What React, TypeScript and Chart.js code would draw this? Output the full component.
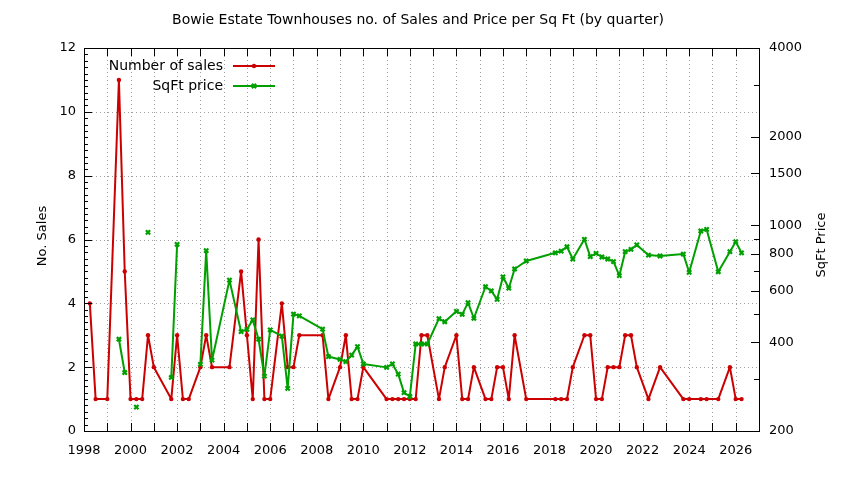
import React, { useEffect, useRef } from 'react';
import Chart from 'chart.js/auto';

// quarter start as decimal year
const quarters = [
  1998.25, 1998.5, 1999.0, 1999.5, 1999.75, 2000.0, 2000.25, 2000.5, 2000.75, 2001.0,
  2001.75, 2002.0, 2002.25, 2002.5, 2003.0, 2003.25, 2003.5, 2004.25, 2004.75, 2005.0,
  2005.25, 2005.5, 2005.75, 2006.0, 2006.5, 2006.75, 2007.0, 2007.25, 2008.25, 2008.5,
  2009.0, 2009.25, 2009.5, 2009.75, 2010.0, 2011.0, 2011.25, 2011.5, 2011.75, 2012.0,
  2012.25, 2012.5, 2012.75, 2013.25, 2013.5, 2014.0, 2014.25, 2014.5, 2014.75, 2015.25,
  2015.5, 2015.75, 2016.0, 2016.25, 2016.5, 2017.0, 2018.25, 2018.5, 2018.75, 2019.0,
  2019.5, 2019.75, 2020.0, 2020.25, 2020.5, 2020.75, 2021.0, 2021.25, 2021.5, 2021.75,
  2022.25, 2022.75, 2023.75, 2024.0, 2024.5, 2024.75, 2025.25, 2025.75, 2026.0, 2026.25,
];

const sales = [
  4, 1, 1, 11, 5, 1, 1, 1, 3, 2,
  1, 3, 1, 1, 2, 3, 2, 2, 5, 3,
  1, 6, 1, 1, 4, 2, 2, 3, 3, 1,
  2, 3, 1, 1, 2, 1, 1, 1, 1, 1,
  1, 3, 3, 1, 2, 3, 1, 1, 2, 1,
  1, 2, 2, 1, 3, 1, 1, 1, 1, 2,
  3, 3, 1, 1, 2, 2, 2, 3, 3, 2,
  1, 2, 1, 1, 1, 1, 1, 2, 1, 1,
];

const sqftPrice: (number | null)[] = [
  null, null, null, 410, 316, null, 241, null, 946, null,
  304, 861, null, null, 337, 820, 348, 651, 435, 443,
  477, 410, 307, 441, 420, 279, 499, 492, 444, 358,
  350, 344, 362, 387, 338, 329, 338, 312, 270, 262,
  395, 395, 395, 482, 470, 510, 498, 546, 483, 618,
  598, 560, 668, 611, 710, 756, 806, 817, 845, 768,
  896, 782, 803, 780, 768, 752, 674, 813, 828, 857,
  792, 786, 798, 692, 956, 968, 695, 813, 879, 806,
];

const yearTicks = [1998, 2000, 2002, 2004, 2006, 2008, 2010, 2012, 2014, 2016, 2018, 2020, 2022, 2024, 2026];
const salesTicks = [0, 2, 4, 6, 8, 10, 12];
const priceTicks = [200, 400, 600, 800, 1000, 1500, 2000, 4000];
const priceMinorTicks = [300, 500, 700, 900, 3000];

const X_MIN = 1998;
const X_MAX = 2027;
const FONT = '"DejaVu Sans", sans-serif';
const RED = '#cc0000';
const GREEN = '#00a000';

function line(ctx: CanvasRenderingContext2D, x1: number, y1: number, x2: number, y2: number) {
  ctx.beginPath();
  ctx.moveTo(x1, y1);
  ctx.lineTo(x2, y2);
  ctx.stroke();
}

const decor = {
  id: 'gnuplotDecor',
  beforeDatasetsDraw(chart: any) {
    const { ctx, chartArea: a, scales } = chart;
    ctx.save();
    ctx.strokeStyle = '#a0a0a0';
    ctx.lineWidth = 1;
    ctx.setLineDash([1, 3]);
    for (let yr = X_MIN + 1; yr < X_MAX; yr++) {
      const px = Math.round(scales.x.getPixelForValue(yr)) + 0.5;
      line(ctx, px, a.top, px, a.bottom);
    }
    salesTicks.forEach((v) => {
      if (v <= 0 || v >= 12) return;
      const py = Math.round(scales.y.getPixelForValue(v)) + 0.5;
      line(ctx, a.left, py, a.right, py);
    });
    ctx.restore();
  },
  afterDraw(chart: any) {
    const { ctx, chartArea: a, scales } = chart;
    ctx.save();
    ctx.strokeStyle = '#000';
    ctx.lineWidth = 1;
    ctx.setLineDash([]);

    // ticks, drawn inward
    for (let yr = X_MIN; yr <= X_MAX; yr++) {
      const px = Math.round(scales.x.getPixelForValue(yr)) + 0.5;
      line(ctx, px, a.bottom, px, a.bottom - 8);
      line(ctx, px, a.top, px, a.top + 8);
    }
    for (let k = 0; k <= 60; k++) {
      const py = Math.round(scales.y.getPixelForValue(k * 0.2)) + 0.5;
      line(ctx, a.left, py, a.left + (k % 10 === 0 ? 8 : 4), py);
    }
    priceTicks.forEach((v) => {
      const py = Math.round(scales.y2.getPixelForValue(v)) + 0.5;
      line(ctx, a.right, py, a.right - 8, py);
    });
    priceMinorTicks.forEach((v) => {
      const py = Math.round(scales.y2.getPixelForValue(v)) + 0.5;
      line(ctx, a.right, py, a.right - 5, py);
    });

    // border
    ctx.strokeRect(Math.round(a.left) + 0.5, Math.round(a.top) + 0.5, Math.round(a.right - a.left), Math.round(a.bottom - a.top));

    // title
    ctx.fillStyle = '#000';
    ctx.font = `14px ${FONT}`;
    ctx.textAlign = 'center';
    ctx.textBaseline = 'middle';
    ctx.fillText('Bowie Estate Townhouses no. of Sales and Price per Sq Ft (by quarter)', 418, 20);

    // legend
    ctx.textAlign = 'right';
    ctx.fillText('Number of sales', 223, 66);
    ctx.fillText('SqFt price', 223, 86);

    // axis titles
    ctx.font = `13px ${FONT}`;
    ctx.textAlign = 'center';
    ctx.save();
    ctx.translate(43, 236);
    ctx.rotate(-Math.PI / 2);
    ctx.fillText('No. Sales', 0, 0);
    ctx.restore();
    ctx.save();
    ctx.translate(822, 245);
    ctx.rotate(-Math.PI / 2);
    ctx.fillText('SqFt Price', 0, 0);
    ctx.restore();

    // legend samples
    ctx.lineWidth = 2;
    ctx.strokeStyle = RED;
    line(ctx, 233, 66, 275, 66);
    ctx.fillStyle = RED;
    ctx.beginPath();
    ctx.arc(254, 66, 2.2, 0, Math.PI * 2);
    ctx.fill();
    ctx.strokeStyle = GREEN;
    line(ctx, 233, 86, 275, 86);
    ctx.lineWidth = 2.2;
    const d = 3 * 0.7071;
    line(ctx, 254 - d, 86 - d, 254 + d, 86 + d);
    line(ctx, 254 - d, 86 + d, 254 + d, 86 - d);
    ctx.restore();
  },
};

const App: React.FC = () => {
  const canvasRef = useRef<HTMLCanvasElement>(null);
  const chartInstance = useRef<Chart | null>(null);

  useEffect(() => {
    if (!canvasRef.current) return;
    if (chartInstance.current) chartInstance.current.destroy();

    const tickFont = { family: FONT, size: 13 };

    chartInstance.current = new Chart(canvasRef.current, {
      type: 'line',
      data: {
        datasets: [
          {
            label: 'Number of sales',
            data: quarters.map((q, i) => ({ x: q, y: sales[i] })),
            yAxisID: 'y',
            borderColor: RED,
            backgroundColor: RED,
            borderWidth: 2,
            borderJoinStyle: 'round',
            borderCapStyle: 'round',
            pointRadius: 2.2,
            pointStyle: 'circle',
            pointBorderWidth: 0,
            order: 1,
          },
          {
            label: 'SqFt price',
            data: quarters.map((q, i) => ({ x: q, y: sqftPrice[i] })),
            yAxisID: 'y2',
            borderColor: GREEN,
            backgroundColor: GREEN,
            borderWidth: 2,
            borderJoinStyle: 'round',
            borderCapStyle: 'round',
            pointRadius: 3,
            pointStyle: 'crossRot',
            pointBorderWidth: 2.2,
            spanGaps: false,
            order: 0,
          },
        ],
      },
      options: {
        responsive: false,
        animation: false,
        layout: { padding: { top: 48, left: 0, right: 0, bottom: 0 } },
        plugins: {
          legend: { display: false },
          title: { display: false },
          tooltip: { enabled: false },
        },
        scales: {
          x: {
            type: 'linear',
            min: X_MIN,
            max: X_MAX,
            grid: { display: false, drawTicks: false },
            border: { display: false },
            afterBuildTicks: (scale: any) => {
              scale.ticks = yearTicks.map((v) => ({ value: v }));
            },
            afterFit: (scale: any) => {
              scale.height = 49;
            },
            ticks: {
              autoSkip: false,
              maxRotation: 0,
              padding: 12,
              color: '#000',
              font: tickFont,
              callback: (v: any) => String(v),
            },
          },
          y: {
            type: 'linear',
            position: 'left',
            min: 0,
            max: 12,
            grid: { display: false, drawTicks: false },
            border: { display: false },
            afterBuildTicks: (scale: any) => {
              scale.ticks = salesTicks.map((v) => ({ value: v }));
            },
            afterFit: (scale: any) => {
              scale.width = 84;
            },
            ticks: {
              padding: 8,
              color: '#000',
              font: tickFont,
              callback: (v: any) => String(v),
            },
          },
          y2: {
            type: 'logarithmic',
            position: 'right',
            min: 200,
            max: 4000,
            grid: { display: false, drawTicks: false },
            border: { display: false },
            afterBuildTicks: (scale: any) => {
              scale.ticks = priceTicks.map((v) => ({ value: v }));
            },
            afterFit: (scale: any) => {
              scale.width = 85;
            },
            ticks: {
              padding: 10,
              color: '#000',
              font: tickFont,
              callback: (v: any) => String(v),
            },
          },
        },
      },
      plugins: [decor],
    } as any);

    return () => {
      if (chartInstance.current) {
        chartInstance.current.destroy();
        chartInstance.current = null;
      }
    };
  }, []);

  return (
    <div style={{ position: 'fixed', left: 0, top: 0, width: 844, height: 480, background: '#fff' }}>
      <canvas ref={canvasRef} width={844} height={480} style={{ width: 844, height: 480 }}></canvas>
    </div>
  );
};

export default App;
